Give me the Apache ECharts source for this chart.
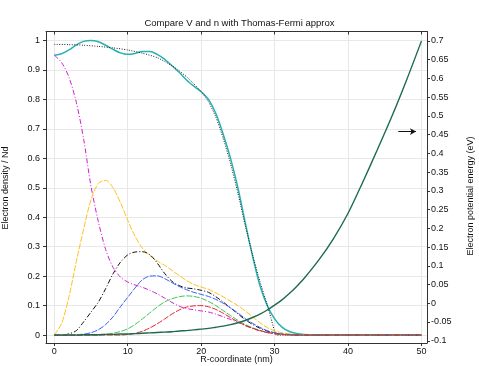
<!DOCTYPE html>
<html>
<head>
<meta charset="utf-8">
<script src="https://cdn.jsdelivr.net/npm/echarts@6/dist/echarts.min.js"></script>
<style>html,body{margin:0;padding:0;background:#fff}#c{width:479px;height:366px}</style>
</head>
<body>
<div id="c"></div>
<script>
// ---- data ----
const X = [0,1,2,3,4,5,6,7,8,9,10,11,12,13,14,15,16,17,18,19,20,21,22,23,24,25,26,27,28,29,30,31,32,33,34,36,38,40,42,44,46,48,50];
const nTotal = [0.950,0.955,0.968,0.985,0.997,1.000,0.996,0.984,0.970,0.958,0.953,0.956,0.963,0.963,0.953,0.937,0.915,0.892,0.866,0.845,0.826,0.800,0.752,0.682,0.600,0.500,0.382,0.268,0.168,0.100,0.055,0.027,0.012,0.005,0.002,0,0,0,0,0,0,0,0];
const n1 = [0.950,0.925,0.875,0.790,0.665,0.505,0.385,0.290,0.230,0.197,0.180,0.170,0.162,0.152,0.140,0.126,0.111,0.098,0.090,0.086,0.082,0.078,0.071,0.062,0.053,0.043,0.032,0.022,0.014,0.008,0.004,0.002,0.001,0,0,0,0,0,0,0,0,0,0];
const n2 = [0,0.04,0.13,0.25,0.36,0.46,0.515,0.525,0.50,0.45,0.39,0.335,0.295,0.270,0.252,0.237,0.220,0.202,0.185,0.172,0.163,0.155,0.143,0.130,0.115,0.100,0.082,0.062,0.042,0.025,0.014,0.008,0.004,0.002,0.001,0,0,0,0,0,0,0,0];
const n3 = [0,0,0.004,0.015,0.045,0.078,0.112,0.158,0.208,0.247,0.272,0.282,0.283,0.273,0.245,0.210,0.183,0.168,0.160,0.157,0.152,0.145,0.130,0.112,0.092,0.072,0.052,0.036,0.023,0.013,0.007,0.003,0.001,0,0,0,0,0,0,0,0,0,0];
const n4 = [0,0,0,0.001,0.003,0.008,0.018,0.036,0.062,0.096,0.128,0.160,0.188,0.200,0.201,0.192,0.178,0.165,0.154,0.145,0.138,0.131,0.121,0.108,0.092,0.075,0.056,0.040,0.026,0.015,0.008,0.004,0.002,0,0,0,0,0,0,0,0,0,0];
const n5 = [0,0,0,0,0,0,0.001,0.003,0.006,0.012,0.021,0.036,0.055,0.075,0.095,0.112,0.123,0.130,0.133,0.131,0.125,0.114,0.100,0.083,0.066,0.050,0.036,0.025,0.016,0.009,0.005,0.002,0.001,0,0,0,0,0,0,0,0,0,0];
const n6 = [0,0,0,0,0,0,0,0,0,0,0.002,0.006,0.013,0.024,0.038,0.054,0.071,0.085,0.095,0.099,0.100,0.096,0.087,0.074,0.059,0.045,0.033,0.023,0.015,0.009,0.005,0.002,0.001,0,0,0,0,0,0,0,0,0,0];
const potential = [-0.085,-0.085,-0.085,-0.085,-0.084,-0.084,-0.084,-0.083,-0.083,-0.082,-0.082,-0.081,-0.080,-0.079,-0.078,-0.077,-0.076,-0.074,-0.073,-0.071,-0.069,-0.067,-0.064,-0.061,-0.057,-0.052,-0.046,-0.038,-0.029,-0.018,-0.005,0.009,0.026,0.045,0.066,0.115,0.172,0.240,0.323,0.410,0.500,0.597,0.700];
const tfX = [0,2,4,6,8,10,12,14,16,17,18,19,20,21,22,23,24,25,26,27,28,29,29.5,30,30.2,35,40,45,50];
const tfN = [0.987,0.986,0.984,0.980,0.975,0.968,0.957,0.942,0.915,0.897,0.877,0.853,0.826,0.792,0.740,0.668,0.582,0.482,0.372,0.272,0.182,0.102,0.058,0.012,0,0,0,0,0];
const arrowX = [46.84, 49.25];
const arrowY = 0.458;
const xTicks = [0,10,20,30,40,50];
const leftTicks = [0,0.1,0.2,0.3,0.4,0.5,0.6,0.7,0.8,0.9,1];
const rightTicks = [-0.1,-0.05,0,0.05,0.1,0.15,0.2,0.25,0.3,0.35,0.4,0.45,0.5,0.55,0.6,0.65,0.7];

const FONT = 'Liberation Sans';
const pairs = (xs, ys) => xs.map((x, i) => [x, ys[i]]);
const axisLineStyle = { color: '#333', width: 1 };

function dens(name, ys, color, type, width, z) {
  return {
    name, type: 'line', data: pairs(X, ys), xAxisIndex: 0, yAxisIndex: 0,
    showSymbol: false, symbol: 'none', smooth: 0.3, z: z || 2,
    lineStyle: { color, type, width: width || 1 }, silent: true, animation: false
  };
}

const chart = echarts.init(document.getElementById('c'), null, { renderer: 'canvas' });
chart.setOption({
  animation: false,
  backgroundColor: '#fff',
  title: {
    text: 'Compare V and n with Thomas-Fermi approx',
    left: 'center', top: 13,
    textStyle: { fontFamily: FONT, fontSize: 9.5, fontWeight: 'normal', color: '#111' }
  },
  grid: { left: 46, right: 52, top: 31.5, bottom: 23, containLabel: false, outerBoundsMode: 'none' },
  xAxis: [
    {
      type: 'value', min: -1.13, max: 50.75, position: 'bottom',
      axisLine: { show: true, onZero: false, lineStyle: axisLineStyle },
      axisTick: { show: true, inside: false, length: 3, customValues: xTicks, lineStyle: axisLineStyle },
      axisLabel: { customValues: xTicks, fontFamily: FONT, fontSize: 9, color: '#111', margin: 4 },
      splitLine: { show: true, lineStyle: { color: '#e8e8e8', width: 1 } }
    },
    {
      type: 'value', min: -1.13, max: 50.75, position: 'top',
      axisLine: { show: true, onZero: false, lineStyle: axisLineStyle },
      axisTick: { show: true, inside: true, length: 3, customValues: xTicks, lineStyle: axisLineStyle },
      axisLabel: { show: false },
      splitLine: { show: false }
    }
  ],
  yAxis: [
    {
      type: 'value', min: -0.027, max: 1.0306, position: 'left',
      axisLine: { show: true, onZero: false, lineStyle: axisLineStyle },
      axisTick: { show: true, inside: false, length: 3, customValues: leftTicks, lineStyle: axisLineStyle },
      axisLabel: { customValues: leftTicks, fontFamily: FONT, fontSize: 9, color: '#111', margin: 6 },
      splitLine: { show: true, lineStyle: { color: '#e8e8e8', width: 1 } }
    },
    {
      type: 'value', min: -0.106, max: 0.725, position: 'right',
      axisLine: { show: true, onZero: false, lineStyle: axisLineStyle },
      axisTick: { show: true, inside: false, length: 3, customValues: rightTicks, lineStyle: axisLineStyle },
      axisLabel: { customValues: rightTicks, fontFamily: FONT, fontSize: 9, color: '#111', margin: 4 },
      splitLine: { show: false }
    }
  ],
  graphic: [
    { type: 'text', x: 236.5, y: 359.5,
      style: { text: 'R-coordinate (nm)', font: '9px "' + FONT + '"', fill: '#111', align: 'center', verticalAlign: 'middle' } },
    { type: 'text', x: 6, y: 188, rotation: Math.PI / 2,
      style: { text: 'Electron density / Nd', font: '9px "' + FONT + '"', fill: '#111', align: 'center', verticalAlign: 'middle' } },
    { type: 'text', x: 471, y: 196, rotation: Math.PI / 2,
      style: { text: 'Electron potential energy (eV)', font: '9px "' + FONT + '"', fill: '#111', align: 'center', verticalAlign: 'middle' } }
  ],
  series: [
    {
      name: 'V', type: 'line', data: pairs(X, potential), xAxisIndex: 0, yAxisIndex: 1,
      showSymbol: false, symbol: 'none', smooth: 0.3, z: 3,
      lineStyle: { color: '#1d6b4f', width: 1.4 }, silent: true,
      markLine: {
        silent: true, symbol: ['none', 'arrow'], symbolSize: [5, 6],
        label: { show: false },
        lineStyle: { color: '#111', width: 1, type: 'solid' },
        data: [[{ coord: [arrowX[0], arrowY] }, { coord: [arrowX[1], arrowY] }]]
      }
    },
    dens('n total', nTotal, '#27b1b3', 'solid', 1.5, 2),
    {
      name: 'n TF', type: 'line', data: pairs(tfX, tfN), xAxisIndex: 0, yAxisIndex: 0,
      showSymbol: false, symbol: 'none', smooth: 0.2, z: 2,
      lineStyle: { color: '#222', type: [1, 1.5], width: 1 }, silent: true
    },
    dens('n1', n1, '#d21fd2', [5, 2, 1, 2], 1, 2),
    dens('n2', n2, '#ffc21f', [6, 1.5], 1, 2),
    dens('n3', n3, '#111111', [5, 2, 1, 2], 1, 2),
    dens('n4', n4, '#3a5cff', [6, 1.5], 1, 2),
    dens('n5', n5, '#3cc74e', [6, 1.5], 1, 2),
    dens('n6', n6, '#e8242c', [6, 1.5], 1, 2)
  ]
});
</script>
</body>
</html>
